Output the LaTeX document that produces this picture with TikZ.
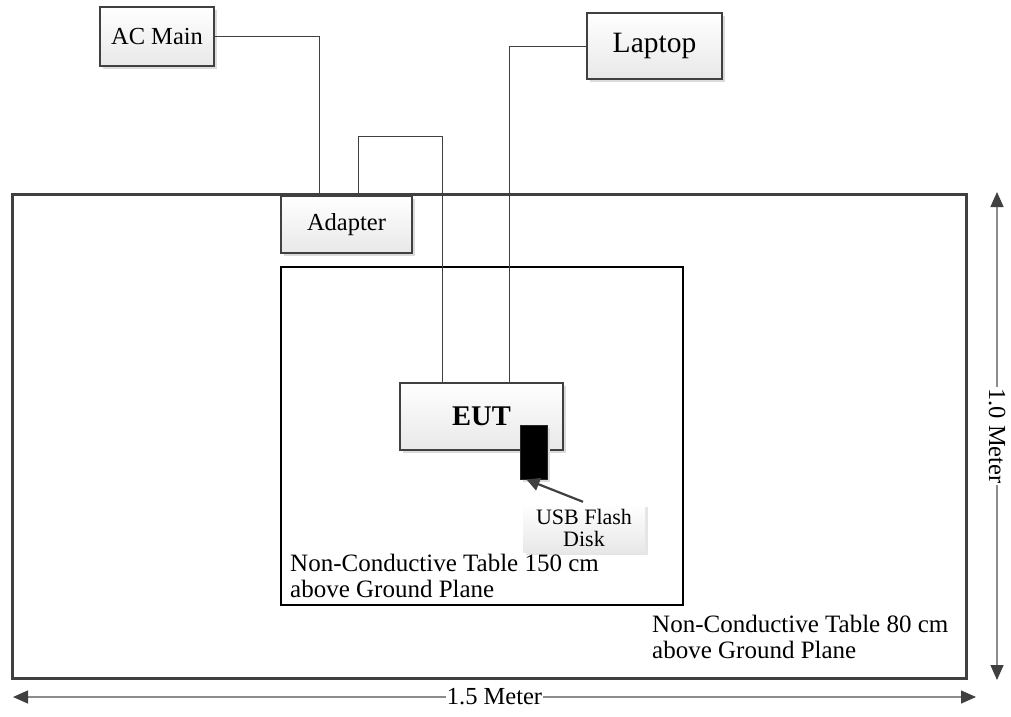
\documentclass[tikz,border=0pt]{standalone}
\usepackage{fontspec}
\setmainfont{Liberation Serif}
\usetikzlibrary{shadows,arrows.meta,calc}
\begin{document}
\begin{tikzpicture}[x=1pt,y=-1pt,
  box/.style={draw=black!75, line width=2.2pt, top color=white, bottom color=black!9,
    drop shadow={shadow xshift=3pt,shadow yshift=-3pt,fill=black!14,opacity=1},
    inner sep=0pt, outer sep=0pt},
  wire/.style={draw=black!75, line width=1pt},
  dim/.style={draw=black!45, line width=1.3pt,
    {Triangle[length=15pt,width=13pt,color=black!75]}-{Triangle[length=15pt,width=13pt,color=black!75]}},
  dimlabel/.style={fill=white, inner sep=1pt, font=\fontsize{24.5}{26}\selectfont},
  tablebox/.style={draw, inner sep=0pt, outer sep=0pt},
  note/.style={align=left, inner sep=0pt, anchor=north west, font=\fontsize{25}{25.5}\selectfont}
]
\useasboundingbox (0,0) rectangle (1011,716);

% tables
\node[tablebox, draw=black!75, line width=3pt, minimum width=954pt, minimum height=484pt] (outer) at (489,436) {};
\node[tablebox, draw=black, line width=1.5pt, minimum width=402pt, minimum height=338pt] (inner) at (482,436) {};

% devices
\node[box, minimum width=114pt, minimum height=59pt, font=\fontsize{24.5}{27}\selectfont] (ac) at (157,36.5) {AC Main};
\node[box, minimum width=135pt, minimum height=66pt, font=\fontsize{29.5}{31}\selectfont] (laptop) at (654.5,46) {Laptop};
\node[box, minimum width=131pt, minimum height=57pt, font=\fontsize{24.5}{27}\selectfont] (adapter) at (346.5,224.5) {Adapter};
\node[box, minimum width=163pt, minimum height=67pt, font=\fontsize{28.5}{31}\bfseries\selectfont] (eut) at (481.5,416.5) {EUT};
\node[draw=black!85, line width=1pt, fill=black, minimum width=27pt, minimum height=54pt, inner sep=0pt,
  drop shadow={shadow xshift=3pt,shadow yshift=-3pt,fill=black!14,opacity=1}] (usb) at (533.5,452) {};
\node[top color=white, bottom color=black!9, draw=none, minimum width=122pt, minimum height=48pt, inner sep=0pt,
  align=center, font=\fontsize{22}{22.5}\selectfont,
  drop shadow={shadow xshift=3pt,shadow yshift=-3pt,fill=black!10,opacity=1}] (usblab) at (584,528) {USB Flash\\Disk};

% wires
\coordinate (bend) at (442,136);
\draw[wire] (ac.east) -| ($(adapter.north west)+(38,0)$);
\draw[wire] ($(adapter.north west)+(77,0)$) |- (bend) -- ($(eut.north west)+(42,0)$);
\draw[wire] (laptop.west) -| ($(eut.north west)+(109,0)$);

% pointer
\draw[draw=black!75, line width=2.2pt, -{Triangle[length=13pt,width=13pt]}] ($(usblab.north)+(-1,-2)$) -- ($(usb.south)+(-7,0)$);

% notes
\node[note] (n150) at (290,554) {Non-Conductive Table 150 cm\\above Ground Plane};
\node[note] (n80) at (652,615) {Non-Conductive Table 80 cm\\above Ground Plane};

% dimensions
\coordinate (vtop) at (997,192);
\coordinate (vbot) at (997,680);
\coordinate (hl) at (13,697);
\coordinate (hr) at (976,697);
\draw[dim] (vtop) -- (vbot) node[dimlabel, midway, rotate=-90] (vlab) {1.0 Meter};
\draw[dim] (hl) -- (hr) node[dimlabel, midway] (hlab) {1.5 Meter};
\end{tikzpicture}
\end{document}
